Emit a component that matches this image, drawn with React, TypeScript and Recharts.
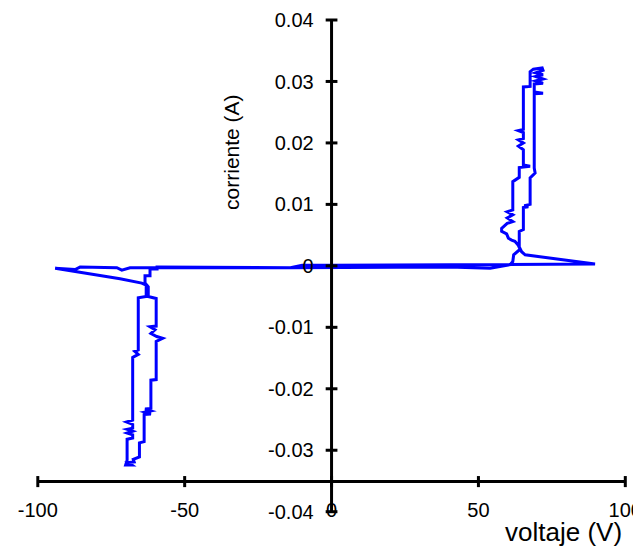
import React from 'react';
import { LineChart, Line, XAxis, YAxis, ReferenceLine, ReferenceDot } from 'recharts';

// voltage (V) and current (A) of the traced I-V curve, in drawing order
const voltaje = [
  0, 89.7, 65.9, 64.7, 63.9, 63.9, 65.3, 65.3, 67.0, 65.6, 67.6, 67.6, 69.3, 69.0, 69.0, 72.0,
  69.0, 69.0, 72.0, 69.5, 72.0, 69.5, 72.0, 69.5, 72.0, 71.7, 68.7, 67.6, 67.6, 65.3, 65.3,
  63.6, 65.3, 65.3, 63.6, 65.3, 63.6, 65.3, 65.3, 67.6, 63.9, 63.9, 61.7, 61.7, 59.8, 61.7,
  59.8, 61.7, 59.8, 57.9, 57.9, 59.6, 60.2, 61.3, 62.4, 63.5, 64.2, 62.0, 61.7, 60.8, 54.0,
  40, -14, -68.6, -71.4, -73.1, -85.6, -87.3, -94.1, -72.0, -64.6, -62.9, -63.1, -63.1, -65.8,
  -65.8, -67.0, -65.8, -67.7, -67.7, -69.8, -67.7, -67.7, -69.6, -67.7, -69.6, -67.7, -67.7,
  -69.6, -69.6, -70.1, -68.0, -69.2, -67.2, -67.5, -65.4, -65.4, -63.8, -63.8, -61.5, -63.5,
  -61.5, -63.5, -61.5, -61.5, -59.7, -59.7, -57.5, -59.5, -61.5, -60.1, -61.8, -59.7, -59.7,
  -62.4, -62.4, -63.5, -63.5, -61.8, -61.8, -59.4, -59.4, -14, -10, 0,
];
const corriente = [
  0.0001, 0.0003, 0.0018, 0.0023, 0.0031, 0.0056, 0.0059, 0.0095, 0.0096, 0.0098, 0.0100, 0.0143,
  0.0151, 0.0159, 0.0280, 0.0281, 0.0283, 0.0296, 0.0297, 0.0301, 0.0304, 0.0308, 0.0311, 0.0314,
  0.0318, 0.0322, 0.0320, 0.0316, 0.0292, 0.0291, 0.0222, 0.0220, 0.0217, 0.0207, 0.0205, 0.0200,
  0.0195, 0.0189, 0.0164, 0.0162, 0.0160, 0.0144, 0.0137, 0.0091, 0.0088, 0.0083, 0.0078, 0.0072,
  0.0069, 0.0061, 0.0056, 0.0052, 0.0045, 0.0042, 0.0040, 0.0034, 0.0027, 0.0018, 0.0007, 0.0002,
  -0.0004, -0.0002, -0.0003, -0.0003, -0.0007, -0.0003, -0.0002, -0.0006, -0.0004, -0.0021,
  -0.0028, -0.0032, -0.0034, -0.0050, -0.0052, -0.0137, -0.0139, -0.0144, -0.0149, -0.0251,
  -0.0254, -0.0258, -0.0264, -0.0266, -0.0269, -0.0272, -0.0275, -0.0280, -0.0282, -0.0316,
  -0.0324, -0.0324, -0.0320, -0.0319, -0.0315, -0.0311, -0.0288, -0.0286, -0.0242, -0.0241,
  -0.0238, -0.0236, -0.0233, -0.0232, -0.0186, -0.0185, -0.0123, -0.0118, -0.0115, -0.0110,
  -0.0104, -0.0099, -0.0098, -0.0053, -0.0050, -0.0034, -0.0028, -0.0016, -0.0016, -0.0005,
  -0.0005, -0.0002, -0.0003, 0.0001, 0.0001,
];

const xTicks = [-100, -50, 0, 50, 100];
const xTickLabels = ['-100', '-50', '0', '50', '100'];
const yTicks = [0.04, 0.03, 0.02, 0.01, 0, -0.01, -0.02, -0.03, -0.04];
const yTickLabels = ['0.04', '0.03', '0.02', '0.01', '0', '-0.01', '-0.02', '-0.03', '-0.04'];
const xAxisCrossing = -0.0351;

const data = voltaje.map((v, k) => ({ v, c: corriente[k] }));

const FONT = 'Liberation Sans, Arial, sans-serif';
const TICK_FS = 20;

export default function App() {
  const xTickHalf = 0.0009;
  const yTickHalf = 2;
  return (
    <div style={{ width: 633, height: 540 }}>
      <LineChart
        width={633}
        height={540}
        data={data}
        margin={{ top: 12, right: 15.7, bottom: 36.3, left: 29.8 }}
        style={{ fontFamily: FONT }}
      >
        <XAxis type="number" dataKey="v" domain={[-100, 100]} hide allowDataOverflow />
        <YAxis type="number" dataKey="c" domain={[-0.04, 0.04]} hide allowDataOverflow />
        <Line
          type="linear"
          dataKey="c"
          stroke="#0000ff"
          strokeWidth={3}
          dot={false}
          activeDot={false}
          isAnimationActive={false}
        />
        <ReferenceLine
          segment={[{ x: -100, y: xAxisCrossing }, { x: 100, y: xAxisCrossing }]}
          stroke="#000"
          strokeWidth={3}
          ifOverflow="visible"
        />
        <ReferenceLine
          segment={[{ x: 0, y: -0.04 }, { x: 0, y: 0.04 }]}
          stroke="#000"
          strokeWidth={3}
          ifOverflow="visible"
        />
        {xTicks.map((t, k) => (
          <ReferenceLine
            key={'xt' + k}
            segment={[{ x: t, y: xAxisCrossing - xTickHalf }, { x: t, y: xAxisCrossing + xTickHalf }]}
            stroke="#000"
            strokeWidth={3}
            ifOverflow="visible"
            label={{
              value: xTickLabels[k],
              position: 'bottom',
              offset: 16,
              fill: '#000',
              fontSize: TICK_FS,
              fontFamily: FONT,
            }}
          />
        ))}
        {yTicks.map((t, k) => (
          <ReferenceLine
            key={'yt' + k}
            segment={[{ x: -yTickHalf, y: t }, { x: yTickHalf, y: t }]}
            stroke="#000"
            strokeWidth={3}
            ifOverflow="visible"
            label={{
              value: yTickLabels[k],
              position: 'left',
              offset: 12,
              fill: '#000',
              fontSize: TICK_FS,
              fontFamily: FONT,
            }}
          />
        ))}
        <ReferenceDot
          x={-34.0}
          y={0.0185}
          r={0}
          fill="none"
          stroke="none"
          ifOverflow="visible"
          label={{
            value: 'corriente (A)',
            position: 'center',
            angle: -90,
            fill: '#000',
            fontSize: 21,
            fontFamily: FONT,
          }}
        />
        <ReferenceDot
          x={79.0}
          y={-0.0433}
          r={0}
          fill="none"
          stroke="none"
          ifOverflow="visible"
          label={{
            value: 'voltaje (V)',
            position: 'center',
            fill: '#000',
            fontSize: 26,
            fontFamily: FONT,
          }}
        />
      </LineChart>
    </div>
  );
}
